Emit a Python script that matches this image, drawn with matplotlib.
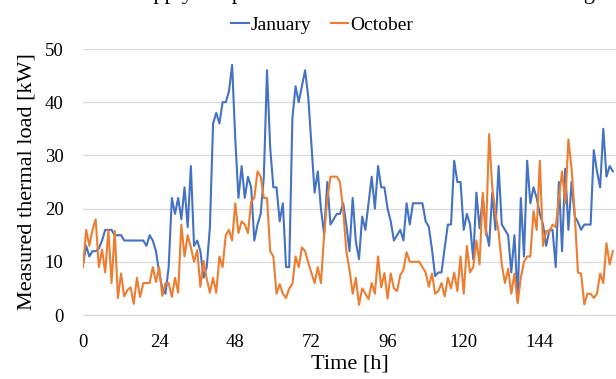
import numpy as np
import matplotlib
matplotlib.use("Agg")
import matplotlib.pyplot as plt

plt.rcParams["font.family"] = ["Liberation Serif", "DejaVu Serif"]

hours = np.arange(168)

january = [
    9.5, 13, 11, 12, 12, 12.5, 14, 16, 16, 16, 15, 15, 15, 14, 14, 14, 14, 14, 14, 14,
    13, 15, 14, 12, 8, 5, 4, 9, 22, 19, 22, 18, 24, 16.5, 28, 13, 14, 12, 7, 9,
    16.5, 36, 38, 36, 40, 40, 42, 47, 33, 22, 28, 22, 26, 24, 14, 17, 19, 26, 46, 31.5,
    24, 24, 17.6, 21, 9, 9, 37, 43, 40, 43, 46, 41, 32, 23, 27, 20, 15.2, 25, 17, 18,
    19, 19, 21, 17, 12, 22, 13.8, 10.5, 18.5, 16, 21, 26, 20, 28, 24, 24, 20, 17.6, 14, 15,
    16, 14, 21, 17, 21, 21, 21, 21, 17.6, 16.6, 12.3, 7.3, 8, 8, 12.6, 17, 17, 29, 25, 25,
    16, 19, 17, 10.5, 23, 16.3, 22, 16, 13, 23, 16, 28, 17, 16, 15, 8, 15, 3, 22, 11,
    29, 21, 24, 22, 19, 17, 13, 16, 16, 9, 25, 12, 27.5, 16, 25, 18.5, 17.5, 16, 17, 17,
    17, 31, 27, 24, 35, 26, 28, 27,
]

october = [
    9, 16, 13, 16, 18, 9, 12.3, 8, 16, 6, 15.8, 3.2, 7.8, 3.5, 4.7, 5.2, 2.1, 7, 3.4, 6,
    6, 6, 9, 6.2, 9, 3.6, 6, 6, 3.4, 7, 4.2, 17, 11, 15, 12.7, 10, 12.2, 5.3, 10.2, 6.8,
    4.2, 7, 4.2, 11, 9, 15, 16, 14, 21, 15.4, 17.6, 17, 15.4, 21.3, 22, 27, 26, 22, 22, 12,
    11, 4, 5.8, 4, 3.2, 5, 5.8, 11, 9, 12.7, 12, 9.8, 7.9, 6, 9, 6, 15, 21.8, 26, 26,
    26, 25, 19.8, 12, 8.5, 4, 7, 1.9, 5, 4, 3, 6, 4, 11, 5.2, 7.9, 3.1, 7.8, 5, 4.5,
    7.5, 8.5, 11.8, 10, 10, 10, 10, 9, 8, 5.3, 7.8, 4, 4.5, 6, 3.5, 7, 5, 8, 4.5, 11,
    4, 13, 8, 9, 14, 9.5, 23, 15, 34, 24, 19, 15.7, 9.5, 6, 8.7, 4, 7.8, 2.2, 7, 10,
    11, 11, 19.5, 16, 29, 13, 15.8, 15.6, 17, 16.5, 22, 27, 21, 33, 27.5, 19, 8, 7.8, 2, 4,
    4, 3.2, 4, 7.8, 6, 13.5, 9.5, 12,
]

x_ticks = [0, 24, 48, 72, 96, 120, 144]
y_ticks = [0, 10, 20, 30, 40, 50]

fig = plt.figure(figsize=(6.16, 3.79), dpi=100)
ax = fig.add_axes([83 / 616, 1 - 315 / 379, 533 / 616, 266 / 379])

ax.plot(hours, january, color="#4472C4", lw=1.5, label="January", solid_joinstyle="round")
ax.plot(hours, october, color="#ED7D31", lw=1.5, label="October", solid_joinstyle="round")

ax.set_xlim(0, 168)
ax.set_ylim(0, 50)
ax.set_xticks(x_ticks)
ax.set_yticks(y_ticks)
ax.tick_params(length=0, labelsize=13.5)
ax.tick_params(axis="x", pad=14)
ax.tick_params(axis="y", pad=14)
ax.grid(axis="y", color="#D9D9D9", lw=0.9)
ax.set_axisbelow(True)
for side in ["top", "right", "left"]:
    ax.spines[side].set_visible(False)
ax.spines["bottom"].set_color("#D9D9D9")
ax.spines["bottom"].set_linewidth(0.9)

ax.set_xlabel("Time [h]", fontsize=16, labelpad=2)
ax.set_ylabel("Measured thermal load [kW]", fontsize=16, labelpad=6)

# title of the chart is mostly cut off at the top edge
fig.text(362 / 616, 1 + 0.5 / 379, "Supply temperature and thermal load in the building",
         ha="center", va="baseline", fontsize=16)

fig.legend(loc="center", bbox_to_anchor=(322 / 616, 1 - 25 / 379), ncol=2, frameon=False,
           fontsize=14, handlelength=0.9, handletextpad=0.1, columnspacing=1.0,
           borderaxespad=0, borderpad=0)

fig.savefig("out.png", dpi=100)
